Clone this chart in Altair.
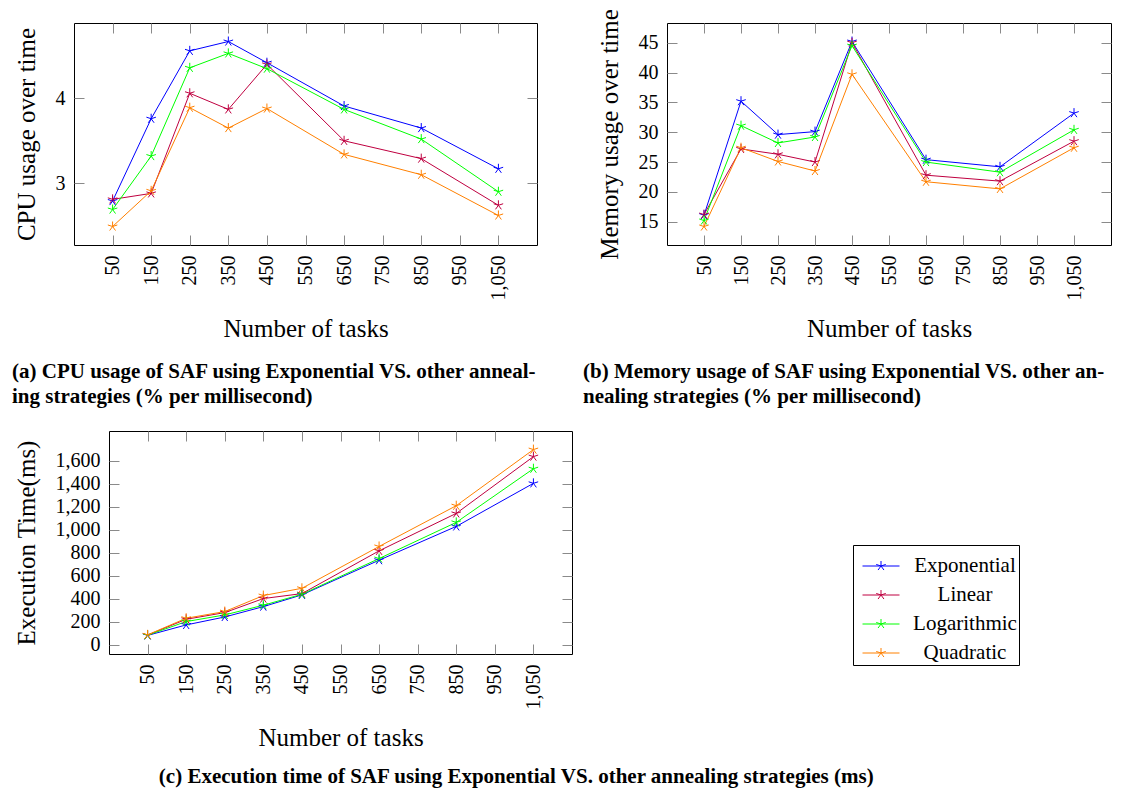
import altair as alt
import pandas as pd

tasks = [50, 150, 250, 350, 450, 650, 850, 1050]
tick_values = [50, 150, 250, 350, 450, 550, 650, 750, 850, 950, 1050]
series = ["Exponential", "Linear", "Logarithmic", "Quadratic"]
colors = ["#0000ff", "#bf0040", "#00ff00", "#ff8000"]

cpu_exponential = [2.79, 3.76, 4.56, 4.67, 4.42, 3.91, 3.65, 3.17]
cpu_linear = [2.81, 2.88, 4.06, 3.87, 4.40, 3.50, 3.29, 2.74]
cpu_logarithmic = [2.69, 3.32, 4.36, 4.53, 4.35, 3.87, 3.52, 2.90]
cpu_quadratic = [2.49, 2.91, 3.89, 3.65, 3.88, 3.34, 3.10, 2.62]

mem_exponential = [16.1, 35.2, 29.6, 30.1, 45.2, 25.4, 24.2, 33.2]
mem_linear = [16.2, 27.2, 26.3, 25.0, 45.0, 22.8, 21.8, 28.5]
mem_logarithmic = [15.2, 31.1, 28.2, 29.2, 44.5, 25.0, 23.3, 30.4]
mem_quadratic = [14.2, 27.4, 25.1, 23.5, 39.7, 21.7, 20.5, 27.4]

exec_exponential = [83, 174, 243, 333, 435, 736, 1029, 1403]
exec_linear = [86, 223, 281, 403, 446, 817, 1142, 1635]
exec_logarithmic = [85, 203, 261, 345, 440, 750, 1064, 1530]
exec_quadratic = [88, 232, 290, 429, 492, 855, 1209, 1696]

cpu_ticks = [3, 4]
mem_ticks = [15, 20, 25, 30, 35, 40, 45]
exec_ticks = [0, 200, 400, 600, 800, 1000, 1200, 1400, 1600]

FONT = "Liberation Serif"
STAR = "M0,-1L0,0M0.951,-0.309L0,0M0.588,0.809L0,0M-0.588,0.809L0,0M-0.951,-0.309L0,0"
LEG_SYMBOL = ("M-1,0L1,0M0,-0.27L0,0M0.257,-0.083L0,0M0.159,0.218L0,0"
              "M-0.159,0.218L0,0M-0.257,-0.083L0,0")


def long_df(lists):
    rows = []
    for name, vals in zip(series, lists):
        for t, v in zip(tasks, vals):
            rows.append({"tasks": t, "value": v, "series": name})
    return pd.DataFrame(rows)


def enlarged(vals, frac=0.1):
    lo, hi = min(vals), max(vals)
    pad = (hi - lo) * frac
    return [lo - pad, hi + pad]


x_domain = enlarged(tasks)

legend = alt.Legend(
    title=None, orient="none", legendX=844, legendY=522,
    symbolType=LEG_SYMBOL, symbolSize=1369, symbolStrokeWidth=1,
    symbolFillColor="transparent", symbolOffset=7,
    labelFont=FONT, labelFontSize=21, labelColor="black",
    labelAlign="center", labelOffset=65,
    strokeColor="black", fillColor="white", padding=2, rowPadding=0,
)


def panel(lists, ytitle, yticks, yfmt, w, h, caption, cap_dx, cap_offset, cap_anchor="start"):
    df = long_df(lists)
    allvals = [v for l in lists for v in l]
    xs = alt.Scale(domain=x_domain, nice=False, zero=False)
    ys = alt.Scale(domain=enlarged(allvals), nice=False, zero=False)
    x_main = alt.X("tasks:Q", scale=xs, axis=alt.Axis(
        values=tick_values, format=",d", labelAngle=-90, title="Number of tasks",
        orient="bottom", offset=-10, tickSize=10, labelPadding=10, titlePadding=16))
    y_main = alt.Y("value:Q", scale=ys, axis=alt.Axis(
        values=yticks, format=yfmt, title=ytitle, orient="left",
        offset=-10, tickSize=10, labelPadding=9, titlePadding=16))
    x_top = alt.X("tasks:Q", scale=xs, axis=alt.Axis(
        values=tick_values, labels=False, title=None, orient="top",
        offset=-10, tickSize=10))
    y_right = alt.Y("value:Q", scale=ys, axis=alt.Axis(
        values=yticks, labels=False, title=None, orient="right",
        offset=-10, tickSize=10))
    lines = alt.Chart(df).mark_line(
        strokeWidth=1,
        point=alt.OverlayMarkDef(shape=STAR, size=100, filled=False, strokeWidth=1),
    ).encode(
        x=x_main, y=y_main,
        color=alt.Color("series:N", scale=alt.Scale(domain=series, range=colors), legend=legend),
    )
    mirror = alt.Chart(df).mark_point(opacity=0).encode(x=x_top, y=y_right)
    return alt.layer(lines, mirror).resolve_axis(x="independent", y="independent").properties(
        width=w, height=h,
        title=alt.TitleParams(
            text=caption, orient="bottom", anchor=cap_anchor, frame="bounds", dx=cap_dx,
            offset=cap_offset, font=FONT, fontSize=21, fontWeight="bold", color="black",
            lineHeight=25,
        ),
    )


def spacer(w):
    return alt.Chart(pd.DataFrame({"s": [0]})).mark_point(opacity=0, size=0).properties(
        width=w, height=1, view=alt.ViewBackground(stroke="transparent"))


chart_a = panel([cpu_exponential, cpu_linear, cpu_logarithmic, cpu_quadratic],
                "CPU usage over time", cpu_ticks, "d", 463, 222,
                ["(a)  CPU usage of SAF using Exponential VS. other anneal-",
                 "ing strategies (% per millisecond)"], -2, 20)
chart_b = panel([mem_exponential, mem_linear, mem_logarithmic, mem_quadratic],
                "Memory usage over time", mem_ticks, "d", 444, 222,
                ["(b)  Memory usage of SAF using Exponential VS. other an-",
                 "nealing strategies (% per millisecond)"], -14, 20)
chart_c = panel([exec_exponential, exec_linear, exec_logarithmic, exec_quadratic],
                "Execution Time(ms)", exec_ticks, ",d", 463, 223,
                "(c)  Execution time of SAF using Exponential VS. other annealing strategies (ms)",
                223, 16, "middle")

chart = alt.vconcat(
    alt.hconcat(spacer(1), alt.hconcat(chart_a, chart_b, spacing=39), spacing=0),
    alt.hconcat(spacer(3), chart_c, spacing=0),
    spacing=22,
).properties(
    padding={"left": 0, "top": 0, "right": 0, "bottom": 0},
    background="white",
).configure_view(
    stroke="black", strokeWidth=1,
).configure_axis(
    labelFont=FONT, labelFontSize=20, labelColor="black",
    titleFont=FONT, titleFontSize=25, titleFontWeight="normal", titleColor="black",
    tickColor="#8a8a8a", tickWidth=1, domain=False, grid=False,
)

chart.save("out.html", embed_options={"renderer": "svg", "actions": False})
